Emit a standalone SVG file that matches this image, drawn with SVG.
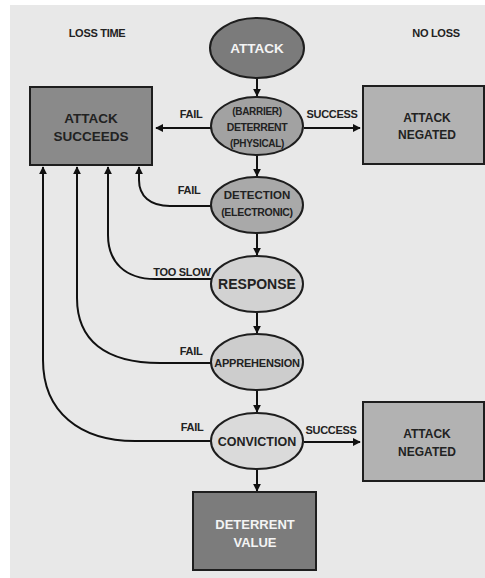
<svg xmlns="http://www.w3.org/2000/svg" width="485" height="578" viewBox="0 0 485 578">
<defs>
<marker id="ah" viewBox="0 0 10 10" refX="9" refY="5" markerWidth="8" markerHeight="8" markerUnits="userSpaceOnUse" orient="auto">
<path d="M0,0 L10,5 L0,10 Z" fill="#111"/>
</marker>
<style>
text{font-family:"Liberation Sans",Arial,sans-serif;font-weight:bold;text-anchor:middle;fill:#222}
.lbl{font-size:11px;letter-spacing:-0.3px}
.wt{fill:#f4f4f4}
.node{stroke:#1e1e1e;stroke-width:2}
.con{fill:none;stroke:#111;stroke-width:2;marker-end:url(#ah)}
</style>
</defs>
<rect x="0" y="0" width="485" height="578" fill="#ffffff"/>
<rect x="10" y="5" width="475" height="573" fill="#e8e8e8"/>
<text class="lbl" x="97" y="37">LOSS TIME</text>
<text class="lbl" x="436" y="37">NO LOSS</text>
<g id="connectors">
<path class="con" d="M257,79 V96"/>
<path class="con" d="M257,155 V176"/>
<path class="con" d="M257,233 V255"/>
<path class="con" d="M257,312 V333"/>
<path class="con" d="M257,391 V412"/>
<path class="con" d="M257,470 V491"/>
<path class="con" d="M211,128 H156"/>
<path class="con" d="M304,128 H360"/>
<path class="con" d="M304,442 H360"/>
<path class="con" d="M211,206 H170 C150,206 139,196 139,180 V167"/>
<path class="con" d="M211,279 H155 C125,279 108,262 108,235 V167"/>
<path class="con" d="M211,363 H160 C105,363 77,340 77,298 V167"/>
<path class="con" d="M211,441 H135 C80,441 43,412 43,360 V167"/>
<text class="lbl" x="191" y="118">FAIL</text>
<text class="lbl" x="332" y="118">SUCCESS</text>
<text class="lbl" x="189" y="194">FAIL</text>
<text class="lbl" x="182" y="276">TOO SLOW</text>
<text class="lbl" x="191" y="355">FAIL</text>
<text class="lbl" x="192" y="431">FAIL</text>
<text class="lbl" x="331" y="434">SUCCESS</text>
</g>
<g id="attack">
<ellipse class="node" cx="257" cy="48" rx="47" ry="30" fill="#7b7b7b"/>
<text class="wt" x="257" y="53" font-size="13.5">ATTACK</text>
</g>
<g id="deterrent">
<ellipse class="node" cx="257" cy="126" rx="46" ry="29" fill="#a2a2a2"/>
<text x="257" y="115" font-size="10" letter-spacing="-0.3">(BARRIER)</text>
<text x="257" y="131" font-size="10.5" letter-spacing="-0.4">DETERRENT</text>
<text x="257" y="147" font-size="10" letter-spacing="-0.3">(PHYSICAL)</text>
</g>
<g id="detection">
<ellipse class="node" cx="257" cy="205" rx="46" ry="28" fill="#a9a9a9"/>
<text x="257" y="199" font-size="11.5">DETECTION</text>
<text x="257" y="216" font-size="10.5" letter-spacing="-0.3">(ELECTRONIC)</text>
</g>
<g id="response">
<ellipse class="node" cx="257" cy="284" rx="46" ry="28" fill="#d2d2d2"/>
<text x="257" y="289" font-size="14">RESPONSE</text>
</g>
<g id="apprehension">
<ellipse class="node" cx="257" cy="362" rx="46" ry="28" fill="#cdcdcd"/>
<text x="257" y="367" font-size="11" letter-spacing="-0.2">APPREHENSION</text>
</g>
<g id="conviction">
<ellipse class="node" cx="257" cy="441" rx="46" ry="28" fill="#dadada"/>
<text x="257" y="446" font-size="12.5">CONVICTION</text>
</g>
<g id="attack-succeeds">
<rect class="node" x="30" y="87" width="122" height="78" fill="#8a8a8a"/>
<text x="91" y="123" font-size="13.5">ATTACK</text>
<text x="91" y="141" font-size="13.5">SUCCEEDS</text>
</g>
<g id="attack-negated-1">
<rect class="node" x="363" y="86" width="121" height="78" fill="#b2b2b2"/>
<text x="427" y="122" font-size="12">ATTACK</text>
<text x="427" y="139" font-size="12">NEGATED</text>
</g>
<g id="attack-negated-2">
<rect class="node" x="363" y="402" width="121" height="79" fill="#b2b2b2"/>
<text x="427" y="438" font-size="12">ATTACK</text>
<text x="427" y="456" font-size="12">NEGATED</text>
</g>
<g id="deterrent-value">
<rect class="node" x="193" y="492" width="123" height="78" fill="#7c7c7c"/>
<text class="wt" x="255" y="529" font-size="13">DETERRENT</text>
<text class="wt" x="255" y="547" font-size="13">VALUE</text>
</g>
</svg>
